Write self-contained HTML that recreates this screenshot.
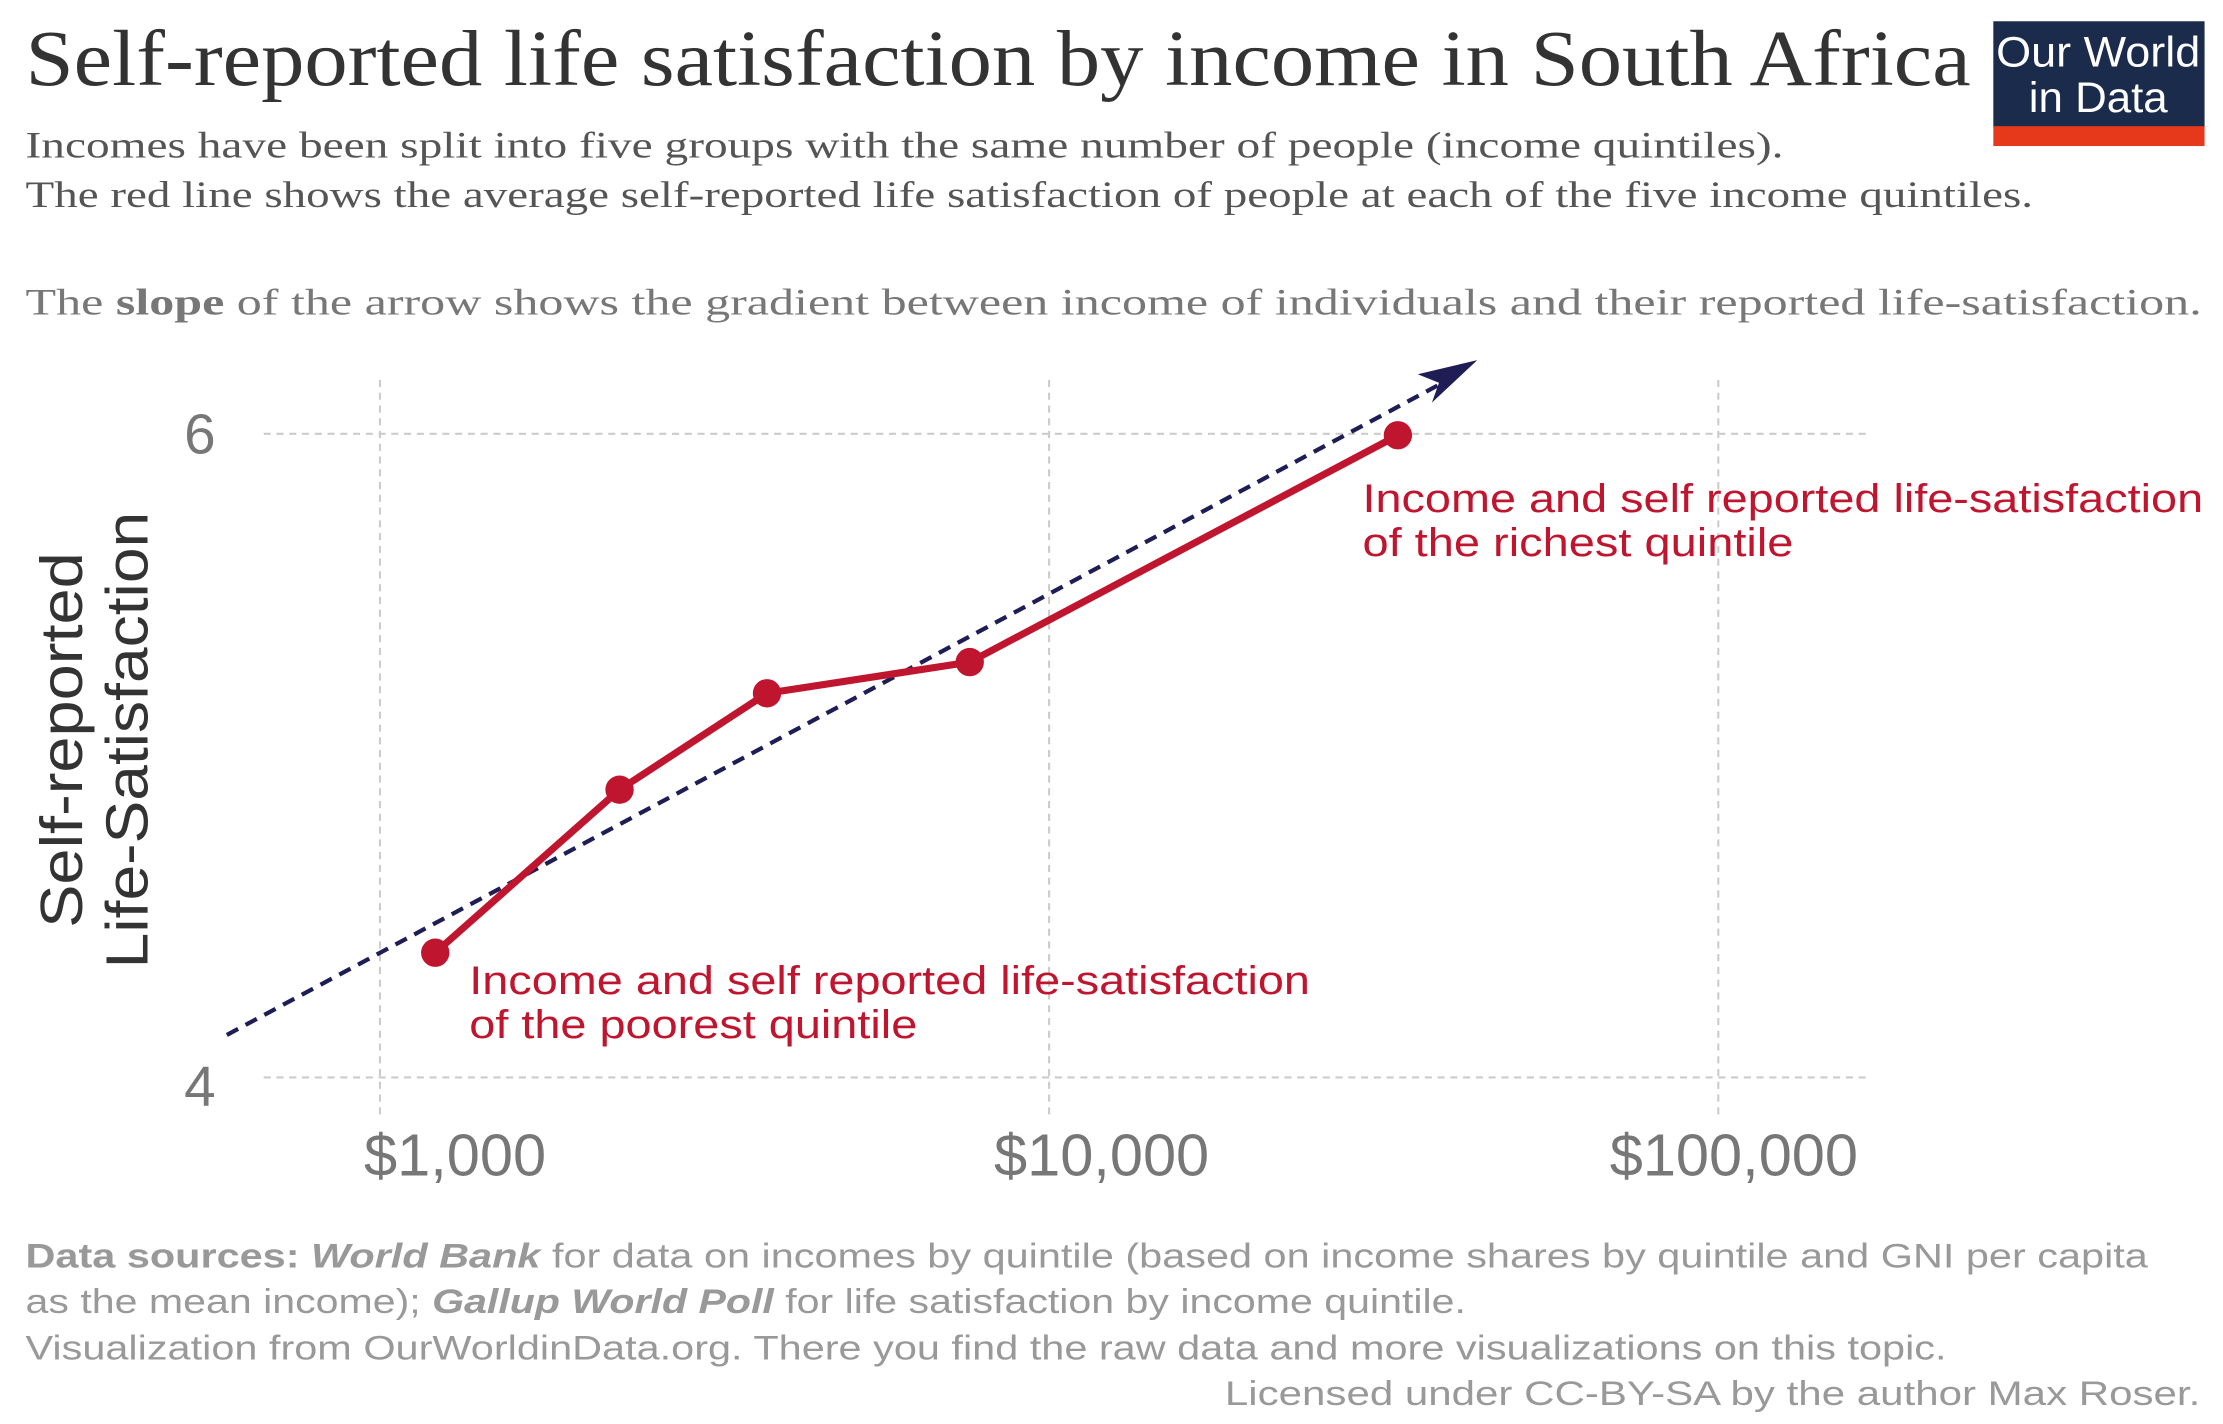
<!DOCTYPE html>
<html><head><meta charset="utf-8"><style>html,body{margin:0;padding:0;background:#fff}svg{display:block}</style></head>
<body>
<svg width="2223" height="1424" viewBox="0 0 1568 1004.4" preserveAspectRatio="none" xmlns="http://www.w3.org/2000/svg">
<text x="18" y="60" font-family="Liberation Serif, serif" font-size="56" fill="#333" textLength="1372" lengthAdjust="spacingAndGlyphs">Self-reported life satisfaction by income in South Africa</text>
<rect x="1406" y="15" width="149" height="75" fill="#1a2b4c"/>
<rect x="1406" y="89" width="149" height="14" fill="#e6391b"/>
<text x="1480" y="47" text-anchor="middle" font-family="Liberation Sans, sans-serif" font-size="30" fill="#fff" textLength="144" lengthAdjust="spacingAndGlyphs">Our World</text>
<text x="1480" y="79" text-anchor="middle" font-family="Liberation Sans, sans-serif" font-size="30" fill="#fff" textLength="98" lengthAdjust="spacingAndGlyphs">in Data</text>
<g font-family="Liberation Serif, serif" font-size="26">
<text x="18" y="111" fill="#555" textLength="1240" lengthAdjust="spacingAndGlyphs">Incomes have been split into five groups with the same number of people (income quintiles).</text>
<text x="18" y="146" fill="#555" textLength="1416" lengthAdjust="spacingAndGlyphs">The red line shows the average self-reported life satisfaction of people at each of the five income quintiles.</text>
<text x="18" y="222" fill="#777" textLength="1535" lengthAdjust="spacingAndGlyphs">The <tspan font-weight="bold">slope</tspan> of the arrow shows the gradient between income of individuals and their reported life-satisfaction.</text>
</g>
<g stroke="#ccc" stroke-width="1.5" stroke-dasharray="5,4" fill="none">
<line x1="186" y1="306" x2="1320" y2="306"/><line x1="186" y1="760" x2="1320" y2="760"/>
<line x1="268" y1="268" x2="268" y2="790"/><line x1="740" y1="268" x2="740" y2="790"/><line x1="1212" y1="268" x2="1212" y2="790"/>
</g>
<g font-family="Liberation Sans, sans-serif" fill="#777">
<text x="141" y="320" font-size="40" text-anchor="middle">6</text>
<text x="141" y="780" font-size="40" text-anchor="middle">4</text>
<text x="321" y="829" font-size="42" text-anchor="middle">$1,000</text>
<text x="777" y="829" font-size="42" text-anchor="middle">$10,000</text>
<text x="1223" y="829" font-size="42" text-anchor="middle">$100,000</text>
</g>
<g font-family="Liberation Sans, sans-serif" font-size="42" fill="#333" text-anchor="middle">
<text transform="translate(58,522) rotate(-90)" textLength="265" lengthAdjust="spacingAndGlyphs">Self-reported</text>
<text transform="translate(104,522) rotate(-90)" textLength="322" lengthAdjust="spacingAndGlyphs">Life-Satisfaction</text>
</g>
<line x1="160" y1="730" x2="1025" y2="266" stroke="#1f1d55" stroke-width="3" stroke-dasharray="9,6"/>
<polygon points="1042,254 1010,284 1015,270 1000,264" fill="#1f1d55"/>
<polyline points="307,672 437,557 541,489 684,467 986,307" fill="none" stroke="#c0152f" stroke-width="5" stroke-linejoin="round"/>
<g fill="#c0152f"><circle cx="307" cy="672" r="10"/><circle cx="437" cy="557" r="10"/><circle cx="541" cy="489" r="10"/><circle cx="684" cy="467" r="10"/><circle cx="986" cy="307" r="10"/></g>
<g font-family="Liberation Sans, sans-serif" font-size="28" fill="#c0152f">
<text x="961" y="361" textLength="593" lengthAdjust="spacingAndGlyphs">Income and self reported life-satisfaction</text>
<text x="961" y="392" textLength="304" lengthAdjust="spacingAndGlyphs">of the richest quintile</text>
<text x="331" y="701" textLength="593" lengthAdjust="spacingAndGlyphs">Income and self reported life-satisfaction</text>
<text x="331" y="732" textLength="316" lengthAdjust="spacingAndGlyphs">of the poorest quintile</text>
</g>
<g font-family="Liberation Sans, sans-serif" font-size="24" fill="#999">
<text x="18" y="894" textLength="1497" lengthAdjust="spacingAndGlyphs"><tspan font-weight="bold">Data sources: </tspan><tspan font-weight="bold" font-style="italic">World Bank</tspan> for data on incomes by quintile (based on income shares by quintile and GNI per capita</text>
<text x="18" y="926" textLength="1016" lengthAdjust="spacingAndGlyphs">as the mean income); <tspan font-weight="bold" font-style="italic">Gallup World Poll</tspan> for life satisfaction by income quintile.</text>
<text x="18" y="959" textLength="1355" lengthAdjust="spacingAndGlyphs">Visualization from OurWorldinData.org. There you find the raw data and more visualizations on this topic.</text>
<text x="1552" y="991" text-anchor="end" textLength="688" lengthAdjust="spacingAndGlyphs">Licensed under CC-BY-SA by the author Max Roser.</text>
</g>
</svg>
</body></html>
